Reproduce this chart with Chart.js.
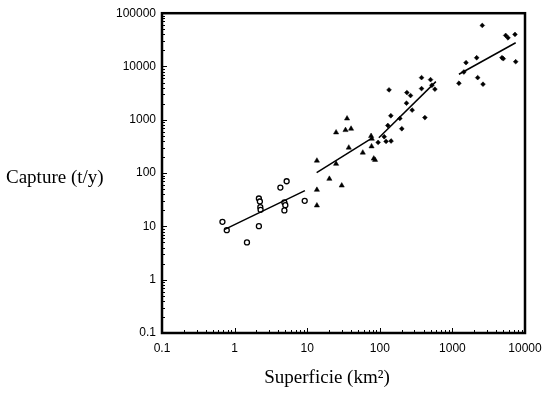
<!DOCTYPE html>
<html>
<head>
<meta charset="utf-8">
<script src="https://cdn.jsdelivr.net/npm/chart.js@4.4.1/dist/chart.umd.min.js"></script>
<style>
  html, body { margin: 0; padding: 0; background: #fff; }
</style>
</head>
<body>
<canvas id="chart" width="550" height="394"></canvas>
<script>
// ==================== DATA ====================
// small areas (open circles)
const circleArea  = [0.68, 0.78, 1.48, 2.16, 2.23, 2.26, 2.28, 2.16, 4.27, 5.21, 4.85, 5.0, 4.85, 9.24];
const circleCatch = [12.2, 8.5, 5.0, 33.4, 29.3, 22.9, 20.5, 10.1, 53.6, 70.3, 28.1, 25.0, 19.9, 30.2];

// medium areas (triangles)
const triangleArea  = [13.6, 13.6, 13.6, 20.2, 25, 29.9, 25, 33.7, 35.4, 40.2, 37.4, 58.3, 75.9, 77.6, 77, 82.6, 86.1];
const triangleCatch = [171, 48.5, 24.7, 78, 149, 58.4, 579, 641, 1057, 679, 300, 242, 496, 441, 317, 187, 177];

// large areas (diamonds)
const diamondArea  = [94.8, 115, 122, 143, 129, 142, 201, 189, 134, 236, 265, 233, 279, 418, 376, 376, 500, 574, 522,
                      2580, 5420, 5830, 7280, 7440, 5020, 4820, 2160, 1540, 1440, 1230, 2230, 2640];
const diamondCatch = [377, 481, 393, 400, 782, 1190, 679, 1060, 3640, 3240, 2850, 2050, 1520, 1100, 6180, 3850, 5670, 3750, 4450,
                      58900, 38300, 34500, 40000, 12300, 14000, 14600, 14600, 11800, 7890, 4850, 6180, 4650];

// fitted lines (end points)
const fitSmallArea  = [0.72, 9.3];
const fitSmallCatch = [8.7, 47];
const fitMidArea    = [13.5, 80];
const fitMidCatch   = [102, 461];
const fitLargeArea  = [97, 592];
const fitLargeCatch = [461, 5200];
const fitHugeArea   = [1230, 7440];
const fitHugeCatch  = [7150, 27900];

// axes
const xTicks = [0.1, 1, 10, 100, 1000, 10000];
const yTicks = [0.1, 1, 10, 100, 1000, 10000, 100000];
const xTitle = 'Superficie (km\u00B2)';
const yTitle = 'Capture (t/y)';

const pts = (xs, ys) => xs.map((v, i) => ({ x: v, y: ys[i] }));

const line = (xs, ys) => ({
  data: pts(xs, ys),
  showLine: true,
  borderColor: '#000',
  borderWidth: 1.5,
  pointRadius: 0,
  order: 0
});

// ==================== FRAME, INNER TICKS, TITLES ====================
const frame = {
  id: 'frame',
  afterDraw(chart) {
    const { ctx, chartArea: a, scales: { x, y } } = chart;
    ctx.save();
    ctx.strokeStyle = '#000';
    ctx.lineWidth = 1;
    ctx.beginPath();
    xTicks.slice(0, -1).forEach(base => {
      for (let m = 1; m < 10; m++) {
        const px = Math.round(x.getPixelForValue(base * m)) + 0.5;
        const len = m === 1 ? 5 : 3;
        ctx.moveTo(px, a.bottom);
        ctx.lineTo(px, a.bottom - len);
      }
    });
    yTicks.slice(0, -1).forEach(base => {
      for (let m = 1; m < 10; m++) {
        const py = Math.round(y.getPixelForValue(base * m)) + 0.5;
        const len = m === 1 ? 5 : 3;
        ctx.moveTo(a.left, py);
        ctx.lineTo(a.left + len, py);
      }
    });
    ctx.stroke();

    ctx.lineWidth = 2.5;
    ctx.strokeRect(a.left, a.top, a.right - a.left, a.bottom - a.top);

    // axis titles
    ctx.fillStyle = '#000';
    ctx.font = '19px "Liberation Serif", "Times New Roman", serif';
    ctx.textBaseline = 'alphabetic';
    ctx.textAlign = 'left';
    ctx.fillText(yTitle, 6, 183);
    ctx.textAlign = 'center';
    ctx.fillText(xTitle, 327, 383);
    ctx.restore();
  }
};

// ==================== CHART ====================
const tickFont = { family: '"Liberation Sans", Arial, sans-serif', size: 12 };

new Chart(document.getElementById('chart'), {
  type: 'scatter',
  data: {
    datasets: [
      {
        data: pts(circleArea, circleCatch),
        pointStyle: 'circle',
        pointRadius: 2.5,
        pointBackgroundColor: '#fff',
        pointBorderColor: '#000',
        pointBorderWidth: 1.3,
        order: 1
      },
      {
        data: pts(triangleArea, triangleCatch),
        pointStyle: 'triangle',
        pointRadius: 3,
        pointBackgroundColor: '#000',
        pointBorderColor: '#000',
        pointBorderWidth: 0.5,
        order: 1
      },
      {
        data: pts(diamondArea, diamondCatch),
        pointStyle: 'rectRot',
        pointRadius: 2.4,
        pointBackgroundColor: '#000',
        pointBorderColor: '#000',
        pointBorderWidth: 0.5,
        order: 1
      },
      line(fitSmallArea, fitSmallCatch),
      line(fitMidArea, fitMidCatch),
      line(fitLargeArea, fitLargeCatch),
      line(fitHugeArea, fitHugeCatch)
    ]
  },
  options: {
    responsive: false,
    animation: false,
    layout: { padding: { top: 12, right: 25, bottom: 0, left: 0 } },
    plugins: {
      legend: { display: false },
      tooltip: { enabled: false }
    },
    scales: {
      x: {
        type: 'logarithmic',
        min: xTicks[0],
        max: xTicks[xTicks.length - 1],
        afterBuildTicks: s => { s.ticks = xTicks.map(v => ({ value: v })); },
        afterFit: s => { s.height = 61; },
        grid: { display: false, drawTicks: false },
        border: { display: false },
        ticks: {
          autoSkip: false,
          maxRotation: 0,
          padding: 8,
          color: '#000',
          font: tickFont,
          callback: v => String(v)
        }
      },
      y: {
        type: 'logarithmic',
        min: yTicks[0],
        max: yTicks[yTicks.length - 1],
        afterBuildTicks: s => { s.ticks = yTicks.map(v => ({ value: v })); },
        afterFit: s => { s.width = 162; },
        grid: { display: false, drawTicks: false },
        border: { display: false },
        ticks: {
          autoSkip: false,
          padding: 6,
          color: '#000',
          font: tickFont,
          callback: v => String(v)
        }
      }
    }
  },
  plugins: [frame]
});
</script>
</body>
</html>
